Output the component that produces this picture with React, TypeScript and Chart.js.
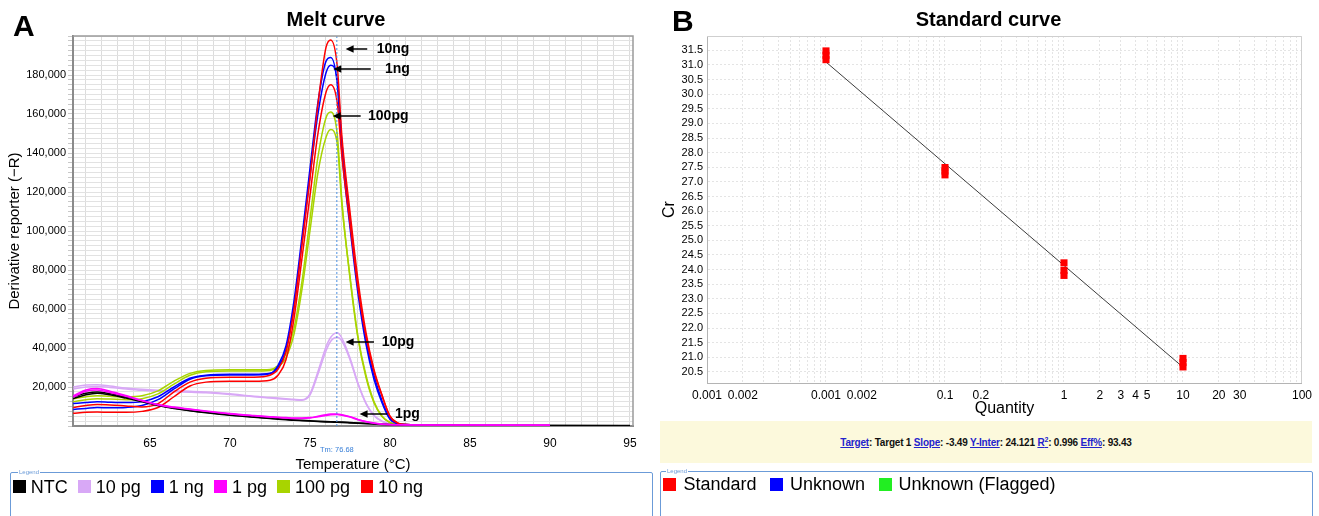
import React, { useEffect, useRef } from 'react';
import { Chart, registerables } from 'chart.js';

Chart.register(...registerables);

const FONT = '"Liberation Sans", Arial, Helvetica, sans-serif';

// ---------------- Melt curve (panel A) ----------------
const temperatures = [60.2, 61, 61.7, 62.5, 63.5, 64.5, 65.5, 66.5, 67.5, 68.5, 70, 71.5, 72.5, 73, 73.5, 74, 74.5, 75, 75.5, 76, 76.3, 76.7, 77, 77.5, 78, 78.5, 79, 79.5, 80, 80.5, 81, 83, 85, 90, 95];

const ntc1 = [15000, 16800, 17500, 16600, 14800, 12800, 10800, 9200, 8000, 7000, 5700, 4700, 4000, 3700, 3400, 3100, 2900, 2700, 2500, 2300, 2200, 2100, 2000, 1800, 1600, 1400, 1200, 1000, 800, 650, 550, 400, 300, 250, 200];
const ntc2 = [14000, 16000, 16800, 16000, 14300, 12400, 10500, 9000, 7800, 6800, 5500, 4500, 3800, 3500, 3200, 2900, 2700, 2500, 2300, 2100, 2000, 1900, 1800, 1600, 1400, 1200, 1000, 800, 650, 550, 450, 350, 250, 200, 150];
const pg10a = [20000, 21000, 21200, 20500, 19500, 18800, 18300, 18000, 17800, 17500, 16500, 15200, 14600, 14300, 14000, 13700, 13500, 16500, 28000, 40500, 45500, 47800, 45000, 35000, 22000, 11800, 5500, 2500, 1000, 600, 500, 400, 300, null, null];
const pg10b = [19000, 20000, 20300, 19800, 19000, 18300, 17800, 17500, 17300, 17000, 16200, 15000, 14300, 14000, 13700, 13400, 13200, 15800, 26500, 38500, 43500, 45500, 43500, 34000, 21500, 11500, 5300, 2400, 1000, 600, 500, 400, 300, null, null];
const ng1a = [11500, 12000, 12500, 12200, 12000, 12500, 15000, 20000, 24500, 26000, 26500, 26500, 27000, 31000, 41000, 64000, 97000, 132000, 166000, 187000, 189000, 176000, 140000, 102000, 68000, 42000, 24000, 12000, 3500, 1200, 800, 600, 500, null, null];
const ng1b = [8500, 9000, 9500, 9300, 9500, 10500, 13500, 19000, 24000, 25800, 26200, 26200, 26800, 30000, 39000, 61000, 94000, 128000, 160000, 181000, 185000, 178000, 145000, 106000, 71000, 44000, 26000, 13000, 4000, 1200, 800, 600, 500, null, null];
const pg1a = [15500, 18500, 19200, 17800, 15600, 13200, 11000, 9700, 8700, 7700, 6400, 5400, 4800, 4500, 4300, 4100, 4100, 4300, 5000, 5800, 6100, 6200, 5800, 4800, 3400, 2300, 1500, 1000, 750, 650, 600, 550, 500, 450, null];
const pg1b = [14800, 17800, 18500, 17200, 15200, 12900, 10800, 9500, 8500, 7500, 6200, 5200, 4600, 4300, 4100, 3900, 3900, 4100, 4700, 5400, 5800, 5900, 5500, 4600, 3200, 2200, 1400, 950, 700, 600, 550, 500, 450, 400, null];
const pg100a = [14000, 15000, 15500, 15200, 15000, 15500, 18000, 23000, 27000, 28500, 28800, 28800, 29000, 31000, 37000, 50000, 74000, 106000, 138000, 158000, 161000, 150000, 115000, 76000, 45000, 25000, 12000, 5000, 1800, 900, 700, 600, 500, null, null];
const pg100b = [12500, 13500, 14000, 13800, 13500, 14000, 16500, 21500, 26000, 27800, 28200, 28200, 28500, 30000, 35000, 47000, 70000, 100000, 130000, 148000, 152000, 145000, 113000, 77000, 46000, 26000, 12500, 5000, 1800, 900, 700, 600, 500, null, null];
const ng10a = [9500, 10500, 11000, 10800, 10300, 9800, 11500, 17500, 22500, 24500, 25000, 25000, 26000, 29000, 38000, 60000, 93000, 127000, 165000, 194000, 198000, 185000, 148000, 110000, 75000, 48000, 29000, 16000, 5000, 1500, 800, 600, 500, null, null];
const ng10b = [6500, 7000, 7200, 7000, 7000, 7500, 9500, 15000, 20500, 22500, 23000, 23000, 23500, 26000, 34000, 55000, 86000, 118000, 150000, 171000, 175000, 166000, 138000, 104000, 71000, 46000, 28000, 15500, 5000, 1500, 800, 600, 500, null, null];

const groupNames = ['NTC', '10 pg', '1 ng', '1 pg', '100 pg', '10 ng'];
const groupColors = ['#000000', '#d8a8f6', '#0000ff', '#ff00ff', '#a8d400', '#ff0000'];
const groupSeries = [[ntc1, ntc2], [pg10a, pg10b], [ng1a, ng1b], [pg1a, pg1b], [pg100a, pg100b], [ng10a, ng10b]];
// drawing order: first = on top
const drawOrder = [3, 0, 5, 2, 4, 1];

const TEMP_MIN = 60.19;
const TEMP_MAX = 95.19;
const TEMP_GRID_FIRST = 61;
const TEMP_GRID_LAST = 95;
const TEMP_LABEL_STEP = 5;

const TM = 76.68;

const arrowLabels = ['10ng', '1ng', '100pg', '10pg', '1pg'];
const arrowTipT = [77.23, 76.46, 76.42, 77.23, 78.1];
const arrowTipV = [193300, 183000, 159000, 43300, 6200];
const arrowTailT = [78.58, 78.8, 78.17, 79.0, 79.83];
const arrowTextT = [79.17, 79.69, 78.63, 79.48, 80.31];

// ---------------- Standard curve (panel B) ----------------
const stdQty = [0.01, 0.01, 0.01, 0.1, 0.1, 0.1, 1, 1, 1, 10, 10, 10];
const stdCt = [31.48, 31.33, 31.18, 27.49, 27.37, 27.24, 24.23, 23.97, 23.8, 20.96, 20.82, 20.67];
const fitQty = [0.01, 10];
const fitCt = [31.1, 20.66];
const qtyTickValues = [0.001, 0.002, 0.01, 0.02, 0.1, 0.2, 1, 2, 3, 4, 5, 10, 20, 30, 100];
const qtyTickLabels = ['0.001', '0.002', '0.001', '0.002', '0.1', '0.2', '1', '2', '3', '4', '5', '10', '20', '30', '100'];
const decades = [0.001, 0.01, 0.1, 1, 10];
const multipliers = [1, 2, 3, 4, 5, 6, 7, 8, 9];

const TARGET = 'Target 1';
const SLOPE = '-3.49';
const YINTER = '24.121';
const R2 = '0.996';
const EFF = '93.43';

const legendBNames = ['Standard', 'Unknown', 'Unknown (Flagged)'];
const legendBColors = ['#ff0000', '#0000ff', '#22ee22'];

const meltOverlay = {
  id: 'meltOverlay',
  afterDraw(chart: any) {
    const { ctx, chartArea: a, scales } = chart;
    const x = scales.x;
    const y = scales.y;
    ctx.save();
    ctx.strokeStyle = '#9a9a9a';
    ctx.lineWidth = 1.5;
    ctx.beginPath();
    ctx.moveTo(a.left, a.top);
    ctx.lineTo(a.right, a.top);
    ctx.lineTo(a.right, a.bottom);
    ctx.stroke();

    ctx.fillStyle = '#000';
    ctx.strokeStyle = '#000';
    arrowLabels.forEach((lab, i) => {
      const tx = x.getPixelForValue(arrowTipT[i]);
      const ty = Math.round(y.getPixelForValue(arrowTipV[i]));
      const ex = x.getPixelForValue(arrowTailT[i]);
      ctx.lineWidth = 1.5;
      ctx.beginPath();
      ctx.moveTo(tx + 6, ty);
      ctx.lineTo(ex, ty);
      ctx.stroke();
      ctx.beginPath();
      ctx.moveTo(tx, ty);
      ctx.lineTo(tx + 8, ty - 3.8);
      ctx.lineTo(tx + 8, ty + 3.8);
      ctx.closePath();
      ctx.fill();
      ctx.font = `bold 14px ${FONT}`;
      ctx.textBaseline = 'middle';
      ctx.textAlign = 'left';
      ctx.fillText(lab, x.getPixelForValue(arrowTextT[i]), ty);
    });

    ctx.font = `7.5px ${FONT}`;
    ctx.fillStyle = '#3a80d8';
    ctx.textAlign = 'center';
    ctx.textBaseline = 'middle';
    ctx.fillText(`Tm: ${TM.toFixed(2)}`, x.getPixelForValue(TM), a.bottom + 24);
    ctx.restore();
  },
};

const stdOverlay = {
  id: 'stdOverlay',
  afterDraw(chart: any) {
    const { ctx, chartArea: a } = chart;
    ctx.save();
    ctx.strokeStyle = '#cfcfcf';
    ctx.lineWidth = 1;
    ctx.beginPath();
    ctx.moveTo(a.left, a.top + 0.5);
    ctx.lineTo(a.right - 0.5, a.top + 0.5);
    ctx.lineTo(a.right - 0.5, a.bottom);
    ctx.stroke();
    ctx.restore();
  },
};

function fmtThousands(v: number) {
  return String(v).replace(/\B(?=(\d{3})+(?!\d))/g, ',');
}

function spacerAxis(width: number) {
  return {
    type: 'linear',
    position: 'right',
    display: true,
    afterFit: (s: any) => {
      s.width = width;
    },
    ticks: { display: false },
    grid: { display: false, drawOnChartArea: false, drawTicks: false },
    border: { display: false },
    title: { display: false },
  };
}

export default function App() {
  const refA = useRef<HTMLCanvasElement>(null);
  const refB = useRef<HTMLCanvasElement>(null);

  useEffect(() => {
    const meltDatasets: any[] = [
      {
        label: 'Tm',
        data: [{ x: TM, y: 0 }, { x: TM, y: 200000 }],
        borderColor: '#4a8ee0',
        borderWidth: 1,
        borderDash: [2, 2],
        pointRadius: 0,
      },
    ];
    drawOrder.forEach((g) => {
      groupSeries[g].forEach((series, r) => {
        meltDatasets.push({
          label: `${groupNames[g]} ${r + 1}`,
          data: temperatures.map((t, i) => ({ x: t, y: series[i] })),
          borderColor: groupColors[g],
          borderWidth: 1.5,
          pointRadius: 0,
          cubicInterpolationMode: 'monotone',
          spanGaps: false,
        });
      });
    });

    const tempGrid: number[] = [];
    for (let t = TEMP_GRID_FIRST; t <= TEMP_GRID_LAST; t++) tempGrid.push(t);

    const chartA = new Chart(refA.current as HTMLCanvasElement, {
      type: 'line',
      data: { datasets: meltDatasets },
      options: {
        animation: false,
        responsive: false,
        layout: { padding: 0 },
        plugins: {
          legend: { display: false },
          tooltip: { enabled: false },
          title: {
            display: true,
            text: 'Melt curve',
            color: '#000',
            font: { family: FONT, size: 20, weight: 'bold' },
            padding: { top: 8, bottom: 4 },
          },
        },
        scales: {
          x: {
            type: 'linear',
            min: TEMP_MIN,
            max: TEMP_MAX,
            afterBuildTicks: (s: any) => {
              s.ticks = tempGrid.map((v) => ({ value: v }));
            },
            afterFit: (s: any) => {
              s.height = 54;
            },
            ticks: {
              autoSkip: false,
              maxRotation: 0,
              padding: 10,
              color: '#000',
              font: { family: FONT, size: 12 },
              callback: (v: any) => (Math.round(v) % TEMP_LABEL_STEP === 0 ? String(Math.round(v)) : ''),
            },
            grid: { color: '#dcdcdc', drawTicks: false },
            border: { color: '#8a8a8a', width: 2 },
            title: {
              display: true,
              text: 'Temperature (°C)',
              color: '#000',
              font: { family: FONT, size: 15 },
              padding: { top: 0, bottom: 6 },
            },
          },
          y: {
            type: 'linear',
            min: 0,
            max: 200000,
            afterFit: (s: any) => {
              s.width = 73;
            },
            ticks: {
              stepSize: 2500,
              autoSkip: false,
              padding: 2,
              color: '#000',
              font: { family: FONT, size: 11 },
              callback: (v: any) => (v % 20000 === 0 && v > 0 && v < 200000 ? fmtThousands(v) : ''),
            },
            grid: { color: '#e2e2e2', tickLength: 5, tickColor: '#c8c8c8' },
            border: { color: '#8a8a8a', width: 2 },
            title: {
              display: true,
              text: 'Derivative reporter (\u2212R)',
              color: '#000',
              font: { family: FONT, size: 15 },
              padding: { top: 5.5, bottom: 0 },
            },
          },
          yRight: spacerAxis(39),
        },
      } as any,
      plugins: [meltOverlay],
    });

    const gridQty: number[] = [];
    decades.forEach((d) => multipliers.forEach((m) => gridQty.push(+(d * m).toPrecision(6))));
    gridQty.push(100);

    const chartB = new Chart(refB.current as HTMLCanvasElement, {
      type: 'scatter',
      data: {
        datasets: [
          {
            label: 'Standard',
            data: stdQty.map((q, i) => ({ x: q, y: stdCt[i] })),
            pointStyle: 'rect',
            pointRadius: 5,
            backgroundColor: '#ff0000',
            borderColor: '#ff0000',
            borderWidth: 0,
          },
          {
            label: 'Fit',
            data: fitQty.map((q, i) => ({ x: q, y: fitCt[i] })),
            showLine: true,
            borderColor: '#3c3c3c',
            borderWidth: 1,
            pointRadius: 0,
          },
        ],
      },
      options: {
        animation: false,
        responsive: false,
        layout: { padding: 0 },
        plugins: {
          legend: { display: false },
          tooltip: { enabled: false },
          title: {
            display: true,
            text: 'Standard curve',
            color: '#000',
            font: { family: FONT, size: 20, weight: 'bold' },
            padding: { top: 8, bottom: 4 },
          },
        },
        scales: {
          x: {
            type: 'logarithmic',
            min: 0.001,
            max: 100,
            afterBuildTicks: (s: any) => {
              s.ticks = gridQty.map((v) => ({ value: v }));
            },
            afterFit: (s: any) => {
              s.height = 37;
            },
            ticks: {
              autoSkip: false,
              maxRotation: 0,
              padding: 5,
              color: '#000',
              font: { family: FONT, size: 12 },
              callback: (v: any) => {
                const k = qtyTickValues.findIndex((q) => Math.abs(q - v) / q < 1e-6);
                return k >= 0 ? qtyTickLabels[k] : '';
              },
            },
            grid: { color: '#e4e4e4', drawTicks: false },
            border: { color: '#b4b4b4', width: 1, dash: [2, 2] },
            title: {
              display: true,
              text: 'Quantity',
              color: '#000',
              font: { family: FONT, size: 16 },
              padding: { top: 0, bottom: 2 },
            },
          },
          y: {
            type: 'linear',
            min: 20.12,
            max: 31.99,
            afterFit: (s: any) => {
              s.width = 47;
            },
            ticks: {
              stepSize: 0.5,
              includeBounds: false,
              autoSkip: false,
              padding: 4,
              color: '#000',
              font: { family: FONT, size: 11 },
              callback: (v: any) => (Math.abs(v * 2 - Math.round(v * 2)) < 1e-6 ? Number(v).toFixed(1) : ''),
            },
            grid: { color: '#e4e4e4', drawTicks: false },
            border: { color: '#b4b4b4', width: 1, dash: [2, 2] },
            title: {
              display: true,
              text: 'Cr',
              color: '#000',
              font: { family: FONT, size: 16 },
              padding: { top: 0, bottom: 0 },
            },
          },
          yRight: spacerAxis(11),
        },
      } as any,
      plugins: [stdOverlay],
    });

    return () => {
      chartA.destroy();
      chartB.destroy();
    };
  }, []);

  const linkStyle: React.CSSProperties = { color: '#2323cc', textDecoration: 'underline' };

  return (
    <div
      style={{
        position: 'absolute',
        left: 0,
        top: 0,
        width: 1319,
        height: 516,
        overflow: 'hidden',
        background: '#ffffff',
        fontFamily: FONT,
      }}
    >
      <canvas
        ref={refA}
        width={672}
        height={480}
        style={{ position: 'absolute', left: 0, top: 0, width: 672, height: 480 }}
      />
      <canvas
        ref={refB}
        width={657}
        height={420}
        style={{ position: 'absolute', left: 660, top: 0, width: 657, height: 420 }}
      />
      <div style={{ position: 'absolute', left: 13, top: 11, fontSize: 30, fontWeight: 'bold', lineHeight: '30px' }}>A</div>
      <div style={{ position: 'absolute', left: 672, top: 6, fontSize: 30, fontWeight: 'bold', lineHeight: '30px' }}>B</div>

      <div
        style={{
          position: 'absolute',
          left: 660,
          top: 421,
          width: 652,
          height: 42,
          background: '#fcf9dc',
          display: 'flex',
          alignItems: 'center',
          justifyContent: 'center',
          fontSize: 10,
          fontWeight: 'bold',
          letterSpacing: '-0.2px',
          color: '#111',
          whiteSpace: 'nowrap',
        }}
      >
        <span>
          <span style={linkStyle}>Target</span>: {TARGET} <span style={linkStyle}>Slope</span>: {SLOPE}{' '}
          <span style={linkStyle}>Y-Inter</span>: {YINTER}{' '}
          <span style={linkStyle}>
            R<sup style={{ fontSize: 7 }}>2</sup>
          </span>
          : {R2} <span style={linkStyle}>Eff%</span>: {EFF}
        </span>
      </div>

      <div
        style={{
          position: 'absolute',
          left: 10,
          top: 472,
          width: 641,
          height: 60,
          border: '1px solid #6b9bd8',
          borderRadius: 2,
          background: '#fff',
        }}
      >
        <span
          style={{
            position: 'absolute',
            left: 7,
            top: -4,
            fontSize: 6,
            lineHeight: '7px',
            color: '#6b9bd8',
            background: '#fff',
            padding: '0 1px',
          }}
        >
          Legend
        </span>
        <div style={{ position: 'absolute', left: 2.3, top: 4.7, display: 'flex', alignItems: 'center', whiteSpace: 'nowrap' }}>
          {groupNames.map((n, i) => (
            <React.Fragment key={n}>
              <span style={{ display: 'inline-block', width: 12.5, height: 12.5, background: groupColors[i], marginRight: 5 }} />
              <span style={{ fontSize: 18, lineHeight: '18px', marginRight: 10.5, color: '#000' }}>{n}</span>
            </React.Fragment>
          ))}
        </div>
      </div>

      <div
        style={{
          position: 'absolute',
          left: 660,
          top: 471,
          width: 651,
          height: 60,
          border: '1px solid #6b9bd8',
          borderRadius: 2,
          background: '#fff',
        }}
      >
        <span
          style={{
            position: 'absolute',
            left: 5,
            top: -4,
            fontSize: 6,
            lineHeight: '7px',
            color: '#6b9bd8',
            background: '#fff',
            padding: '0 1px',
          }}
        >
          Legend
        </span>
        <div style={{ position: 'absolute', left: 2.4, top: 3, display: 'flex', alignItems: 'center', whiteSpace: 'nowrap' }}>
          {legendBNames.map((n, i) => (
            <React.Fragment key={n}>
              <span style={{ display: 'inline-block', width: 13, height: 13, background: legendBColors[i], marginRight: 7 }} />
              <span style={{ fontSize: 18, lineHeight: '18px', marginRight: 13.5, color: '#000' }}>{n}</span>
            </React.Fragment>
          ))}
        </div>
      </div>
    </div>
  );
}
